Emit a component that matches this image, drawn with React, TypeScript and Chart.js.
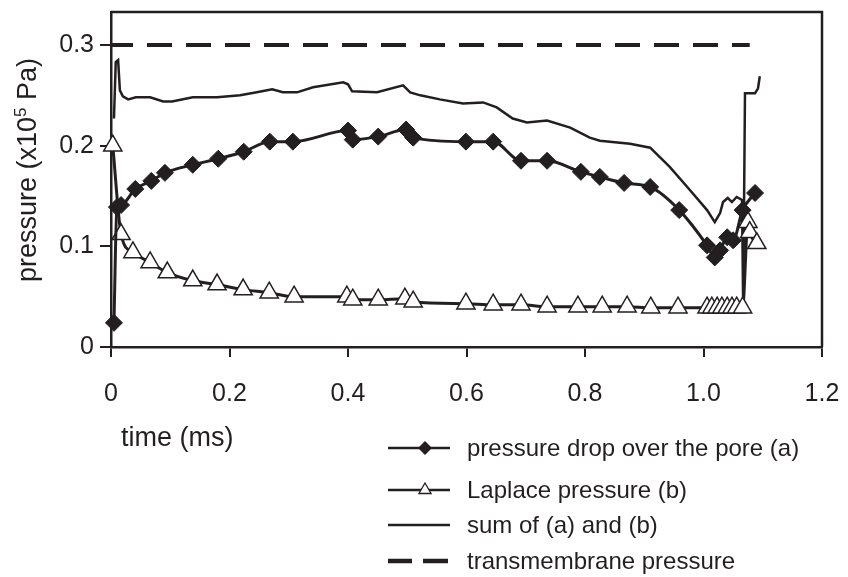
import React, { useEffect, useRef } from "react";
import { Chart, registerables } from "chart.js";

Chart.register(...registerables);

// ---- data (time in ms, pressure in 1e5 Pa) ----
const dropTime = [0.005, 0.010, 0.017, 0.041, 0.068, 0.091, 0.138, 0.181, 0.224, 0.268, 0.307, 0.400, 0.408, 0.451, 0.498, 0.510, 0.599, 0.645, 0.692, 0.736, 0.793, 0.825, 0.866, 0.910, 0.959, 1.006, 1.019, 1.028, 1.040, 1.050, 1.066, 1.087];
const dropPressure = [0.024, 0.139, 0.141, 0.157, 0.165, 0.173, 0.181, 0.187, 0.194, 0.204, 0.204, 0.215, 0.206, 0.209, 0.216, 0.208, 0.204, 0.204, 0.185, 0.185, 0.174, 0.169, 0.163, 0.159, 0.136, 0.101, 0.089, 0.096, 0.109, 0.106, 0.136, 0.153];

const laplaceTime = [0.003, 0.017, 0.037, 0.066, 0.095, 0.138, 0.179, 0.223, 0.267, 0.309, 0.398, 0.408, 0.451, 0.496, 0.510, 0.599, 0.645, 0.692, 0.736, 0.788, 0.829, 0.871, 0.911, 0.957, 1.006, 1.014, 1.023, 1.031, 1.040, 1.048, 1.056, 1.066, 1.075, 1.078, 1.090];
const laplacePressure = [0.200, 0.112, 0.094, 0.084, 0.074, 0.066, 0.062, 0.057, 0.054, 0.050, 0.050, 0.047, 0.047, 0.048, 0.045, 0.043, 0.042, 0.042, 0.040, 0.040, 0.040, 0.040, 0.039, 0.039, 0.039, 0.039, 0.039, 0.039, 0.039, 0.039, 0.039, 0.039, 0.124, 0.114, 0.103];

const sumTime = [0.005, 0.008, 0.012, 0.015, 0.020, 0.029, 0.042, 0.066, 0.088, 0.103, 0.138, 0.179, 0.218, 0.246, 0.272, 0.290, 0.314, 0.341, 0.392, 0.400, 0.407, 0.449, 0.493, 0.505, 0.522, 0.555, 0.594, 0.628, 0.651, 0.678, 0.702, 0.736, 0.775, 0.808, 0.825, 0.876, 0.910, 0.943, 0.977, 1.006, 1.019, 1.028, 1.033, 1.041, 1.048, 1.056, 1.065, 1.067, 1.070, 1.087, 1.092, 1.095];
const sumPressure = [0.227, 0.283, 0.285, 0.255, 0.249, 0.246, 0.248, 0.248, 0.244, 0.244, 0.248, 0.248, 0.250, 0.253, 0.256, 0.253, 0.253, 0.258, 0.263, 0.261, 0.254, 0.253, 0.260, 0.253, 0.250, 0.246, 0.242, 0.243, 0.238, 0.227, 0.223, 0.225, 0.218, 0.208, 0.205, 0.202, 0.198, 0.179, 0.156, 0.136, 0.124, 0.133, 0.144, 0.148, 0.144, 0.149, 0.146, 0.039, 0.252, 0.252, 0.257, 0.269];

const transTime = [0, 1.078];
const transPressure = [0.3, 0.3];

const xTickValues = [0, 0.2, 0.4, 0.6, 0.8, 1.0, 1.2];
const xTickLabels = ["0", "0.2", "0.4", "0.6", "0.8", "1.0", "1.2"];
const yTickValues = [0, 0.1, 0.2, 0.3];
const yTickLabels = ["0", "0.1", "0.2", "0.3"];

const legendLabels = [
  "pressure drop over the pore (a)",
  "Laplace pressure (b)",
  "sum of (a) and (b)",
  "transmembrane pressure",
];
const xAxisTitle = "time (ms)";
const yAxisTitleMain = "pressure (x10";
const yAxisTitleSup = "5";
const yAxisTitleEnd = " Pa)";

const INK = "#231f20";
const FONT = "'Liberation Sans', Arial, Helvetica, sans-serif";

const toPoints = (xs: number[], ys: number[]) => xs.map((x, i) => ({ x, y: ys[i] }));

function drawDiamond(ctx: CanvasRenderingContext2D, cx: number, cy: number, r: number) {
  ctx.beginPath();
  ctx.moveTo(cx, cy - r);
  ctx.lineTo(cx + r, cy);
  ctx.lineTo(cx, cy + r);
  ctx.lineTo(cx - r, cy);
  ctx.closePath();
  ctx.fillStyle = INK;
  ctx.fill();
}

function drawTriangle(ctx: CanvasRenderingContext2D, cx: number, cy: number, r: number) {
  ctx.beginPath();
  ctx.moveTo(cx, cy - r);
  ctx.lineTo(cx + r * 0.866, cy + r / 2);
  ctx.lineTo(cx - r * 0.866, cy + r / 2);
  ctx.closePath();
  ctx.fillStyle = "#fff";
  ctx.fill();
  ctx.lineWidth = 1.3;
  ctx.strokeStyle = INK;
  ctx.stroke();
}

const overlayPlugin = {
  id: "overlay",
  afterDraw(chart: any) {
    const { ctx, chartArea: a } = chart;
    ctx.save();
    // top + right frame
    ctx.strokeStyle = INK;
    ctx.lineWidth = 2.5;
    ctx.beginPath();
    ctx.moveTo(a.left, a.top);
    ctx.lineTo(a.right, a.top);
    ctx.lineTo(a.right, a.bottom);
    ctx.stroke();

    // y axis title with superscript
    ctx.fillStyle = INK;
    ctx.textBaseline = "middle";
    ctx.textAlign = "left";
    const mainFont = `27px ${FONT}`;
    const supFont = `17px ${FONT}`;
    ctx.font = mainFont;
    const w1 = ctx.measureText(yAxisTitleMain).width;
    const w3 = ctx.measureText(yAxisTitleEnd).width;
    ctx.font = supFont;
    const w2 = ctx.measureText(yAxisTitleSup).width;
    const total = w1 + w2 + w3;
    ctx.save();
    ctx.translate(29, 170);
    ctx.rotate(-Math.PI / 2);
    const x0 = -total / 2;
    ctx.font = mainFont;
    ctx.fillText(yAxisTitleMain, x0, 0);
    ctx.font = supFont;
    ctx.fillText(yAxisTitleSup, x0 + w1, -8);
    ctx.font = mainFont;
    ctx.fillText(yAxisTitleEnd, x0 + w1 + w2, 0);
    ctx.restore();

    // x axis title
    ctx.font = `27px ${FONT}`;
    ctx.textAlign = "left";
    ctx.fillText(xAxisTitle, 121, 439);

    // legend
    const rows = [448, 490, 525, 561];
    const lx0 = 388, lx1 = 450, mx = 425, tx = 467;
    ctx.font = `24px ${FONT}`;
    rows.forEach((y, i) => {
      ctx.strokeStyle = INK;
      ctx.setLineDash([]);
      if (i === 3) {
        ctx.lineWidth = 4.5;
        ctx.beginPath();
        ctx.moveTo(388, y);
        ctx.lineTo(412, y);
        ctx.moveTo(423, y);
        ctx.lineTo(448, y);
        ctx.stroke();
      } else {
        ctx.lineWidth = 2.5;
        ctx.beginPath();
        ctx.moveTo(lx0, y);
        ctx.lineTo(lx1, y);
        ctx.stroke();
        if (i === 0) drawDiamond(ctx, mx, y, 7);
        if (i === 1) drawTriangle(ctx, mx, y, 7);
      }
      ctx.fillStyle = INK;
      ctx.textAlign = "left";
      ctx.textBaseline = "middle";
      ctx.fillText(legendLabels[i], tx, y + 1);
    });
    ctx.restore();
  },
};

export default function App() {
  const canvasRef = useRef<HTMLCanvasElement | null>(null);

  useEffect(() => {
    const canvas = canvasRef.current;
    if (!canvas) return;
    const chart = new Chart(canvas, {
      type: "scatter",
      data: {
        datasets: [
          {
            label: legendLabels[0],
            data: toPoints(dropTime, dropPressure),
            showLine: true,
            borderColor: INK,
            borderWidth: 3,
            cubicInterpolationMode: "monotone",
            pointStyle: "rectRot",
            pointRadius: 8.5,
            pointBackgroundColor: INK,
            pointBorderColor: INK,
            pointBorderWidth: 1,
            clip: false,
          } as any,
          {
            label: legendLabels[1],
            data: toPoints(laplaceTime, laplacePressure),
            showLine: true,
            borderColor: INK,
            borderWidth: 3,
            cubicInterpolationMode: "monotone",
            pointStyle: "triangle",
            pointRadius: 10.5,
            pointBackgroundColor: "#fff",
            pointBorderColor: INK,
            pointBorderWidth: 1.5,
            clip: false,
          } as any,
          {
            label: legendLabels[2],
            data: toPoints(sumTime, sumPressure),
            showLine: true,
            borderColor: INK,
            borderWidth: 2.5,
            tension: 0,
            pointRadius: 0,
            clip: false,
          } as any,
          {
            label: legendLabels[3],
            data: toPoints(transTime, transPressure),
            showLine: true,
            borderColor: INK,
            borderWidth: 4,
            borderDash: [25, 14],
            borderDashOffset: 3,
            pointRadius: 0,
            clip: false,
          } as any,
        ],
      },
      options: {
        animation: false,
        responsive: false,
        devicePixelRatio: 1,
        events: [],
        layout: { padding: { left: 0, top: 12, right: 26, bottom: 0 } },
        plugins: {
          legend: { display: false },
          tooltip: { enabled: false },
        },
        scales: {
          x: {
            type: "linear",
            min: 0,
            max: 1.2,
            afterBuildTicks: (scale: any) => {
              scale.ticks = xTickValues.map((v) => ({ value: v }));
            },
            afterFit: (scale: any) => {
              scale.height = 577 - 347;
              scale.paddingLeft = 0;
              scale.paddingRight = 0;
              scale.paddingTop = 0;
              scale.paddingBottom = 0;
            },
            ticks: {
              callback: (_v: any, i: number) => xTickLabels[i],
              font: { family: FONT, size: 25 },
              color: INK,
              padding: 22,
              maxRotation: 0,
              autoSkip: false,
            },
            grid: {
              drawOnChartArea: false,
              drawTicks: true,
              tickLength: 10,
              color: INK,
              lineWidth: 2,
            },
            border: { display: true, color: INK, width: 2.5 },
          },
          y: {
            type: "linear",
            min: 0,
            max: 0.3328,
            afterBuildTicks: (scale: any) => {
              scale.ticks = yTickValues.map((v) => ({ value: v }));
            },
            afterFit: (scale: any) => {
              scale.width = 111;
              scale.paddingLeft = 0;
              scale.paddingRight = 0;
              scale.paddingTop = 0;
              scale.paddingBottom = 0;
            },
            ticks: {
              callback: (_v: any, i: number) => yTickLabels[i],
              font: { family: FONT, size: 25 },
              color: INK,
              padding: 6,
              autoSkip: false,
            },
            grid: {
              drawOnChartArea: false,
              drawTicks: true,
              tickLength: 11,
              color: INK,
              lineWidth: 2,
            },
            border: { display: true, color: INK, width: 2.5 },
          },
        },
      } as any,
      plugins: [overlayPlugin],
    });
    return () => chart.destroy();
  }, []);

  return (
    <canvas
      ref={canvasRef}
      width={848}
      height={577}
      style={{ position: "absolute", left: 0, top: 0, width: 848, height: 577, background: "#fff" }}
    />
  );
}
